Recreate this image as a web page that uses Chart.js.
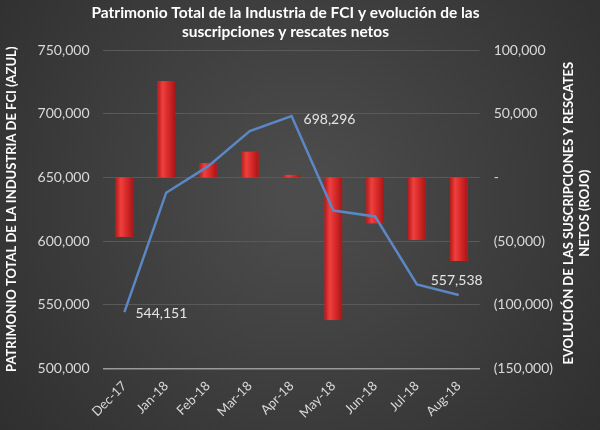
<!DOCTYPE html>
<html>
<head>
<meta charset="utf-8">
<script src="https://cdn.jsdelivr.net/npm/chart.js@4/dist/chart.umd.min.js"></script>
<style>
  html, body { margin: 0; padding: 0; background: #333; }
  #wrap { width: 600px; height: 430px; }
</style>
</head>
<body>
<div id="wrap"><canvas id="fci-chart" width="600" height="430"></canvas></div>
<script>
const months = ["Dec-17", "Jan-18", "Feb-18", "Mar-18", "Apr-18", "May-18", "Jun-18", "Jul-18", "Aug-18"];
// patrimonio total (azul), eje izquierdo
const patrimonio = [544151, 638000, 658700, 686500, 698296, 624000, 619300, 565900, 557538];
// suscripciones y rescates netos (rojo), eje derecho
const netos = [-46600, 75600, 11100, 20100, 2000, -112100, -36000, -49200, -65600];
// which points get a value label
const labeled_points = [0, 4, 8];
const right_title = ["EVOLUCIÓN DE LAS SUSCRIPCIONES Y RESCATES", "NETOS (ROJO)"];

const text_color = "#d9d9d9";

function fmt(n) {
    return Math.abs(n).toLocaleString("en-US");
}

// dark radial background like the excel picture
const background_plugin = {
    id: "bg",
    beforeDraw(chart) {
        let ctx = chart.ctx;
        let w = chart.width, h = chart.height;
        let g = ctx.createRadialGradient(w * 0.5, h * 0.45, 20, w * 0.5, h * 0.45, w * 0.7);
        g.addColorStop(0, "#4c4c4c");
        g.addColorStop(1, "#2c2c2c");
        ctx.save();
        ctx.fillStyle = g;
        ctx.fillRect(0, 0, w, h);
        ctx.restore();
    }
};

// shaded (cylinder like) bars, painted right after the bar dataset
const bar_shade_plugin = {
    id: "barShade",
    afterDatasetDraw(chart, args) {
        if (args.index != 1) return;
        let ctx = chart.ctx;
        ctx.save();
        args.meta.data.forEach(function(bar) {
            let left = bar.x - bar.width / 2;
            let top = Math.min(bar.y, bar.base);
            let h = Math.abs(bar.base - bar.y);
            let g = ctx.createLinearGradient(left, 0, left + bar.width, 0);
            g.addColorStop(0, "#b51a1a");
            g.addColorStop(0.3, "#ef4040");
            g.addColorStop(0.6, "#d92a2a");
            g.addColorStop(1, "#a81616");
            ctx.fillStyle = g;
            ctx.fillRect(left, top, bar.width, Math.max(h, 1.5));
        });
        ctx.restore();
    }
};

// value labels next to a few points, and the right axis title read bottom to top
const labels_plugin = {
    id: "extraLabels",
    afterDatasetsDraw(chart) {
        let ctx = chart.ctx;
        let meta = chart.getDatasetMeta(0);
        ctx.save();
        ctx.font = "14px Lato";
        ctx.fillStyle = "#e6e6e6";
        ctx.textBaseline = "middle";
        ctx.textAlign = "left";
        labeled_points.forEach(function(i) {
            let p = meta.data[i];
            let txt = fmt(patrimonio[i]);
            if (i == 8) {
                ctx.fillText(txt, p.x - 28, p.y - 15);
            } else if (i == 4) {
                ctx.fillText(txt, p.x + 12, p.y + 3);
            } else {
                ctx.fillText(txt, p.x + 11, p.y + 1);
            }
        });

        let area = chart.chartArea;
        ctx.translate(0, (area.top + area.bottom) / 2 + 4);
        ctx.rotate(-Math.PI / 2);
        ctx.font = "bold 13px Lato";
        ctx.fillStyle = "#ffffff";
        ctx.textAlign = "center";
        ctx.fillText(right_title[0], 0, 569);
        ctx.fillText(right_title[1], 0, 585);
        ctx.restore();
    }
};

let config = {
    type: "bar",
    data: {
        labels: months,
        datasets: [{
            type: "line",
            label: "Patrimonio total",
            data: patrimonio,
            yAxisID: "y",
            borderColor: "#5b87c5",
            borderWidth: 2.5,
            pointRadius: 0,
            tension: 0,
            fill: false
        }, {
            type: "bar",
            label: "Suscripciones y rescates netos",
            data: netos,
            yAxisID: "y1",
            backgroundColor: "#d93030",
            borderWidth: 0,
            barPercentage: 0.42,
            categoryPercentage: 1
        }]
    },
    options: {
        responsive: false,
        animation: false,
        layout: { padding: { top: 4, left: 4, right: 33, bottom: 7 } },
        plugins: {
            legend: { display: false },
            tooltip: { enabled: false },
            title: {
                display: true,
                text: ["Patrimonio Total de la Industria de FCI y evolución de las", "suscripciones y rescates netos"],
                color: "#ffffff",
                font: { family: "Lato", size: 15.5, weight: "bold" },
                padding: { top: 0, bottom: 9 }
            }
        },
        scales: {
            x: {
                grid: { display: false },
                border: { color: "#9a9a9a", width: 1.5 },
                ticks: {
                    color: text_color,
                    font: { family: "Lato", size: 13 },
                    maxRotation: 45,
                    minRotation: 45,
                    padding: 2
                }
            },
            y: {
                position: "left",
                min: 500000,
                max: 750000,
                ticks: {
                    stepSize: 50000,
                    color: text_color,
                    font: { family: "Lato", size: 14 },
                    padding: 14,
                    callback: function(v) { return fmt(v); }
                },
                grid: { color: "#5a5a5a", drawTicks: false },
                border: { display: false },
                title: {
                    display: true,
                    text: "PATRIMONIO TOTAL DE LA INDUSTRIA DE FCI (AZUL)",
                    color: "#ffffff",
                    font: { family: "Lato", size: 13, weight: "bold" },
                    padding: { top: 0, bottom: 4 }
                }
            },
            y1: {
                position: "right",
                min: -150000,
                max: 100000,
                ticks: {
                    stepSize: 50000,
                    color: text_color,
                    font: { family: "Lato", size: 14 },
                    padding: 14,
                    callback: function(v) {
                        if (v == 0) return "-";
                        return v < 0 ? "(" + fmt(v) + ")" : fmt(v);
                    }
                },
                grid: { display: false, drawTicks: false },
                border: { display: false }
            }
        }
    },
    plugins: [background_plugin, bar_shade_plugin, labels_plugin]
};

let fci_chart = new Chart(document.getElementById("fci-chart"), config);
</script>
</body>
</html>
